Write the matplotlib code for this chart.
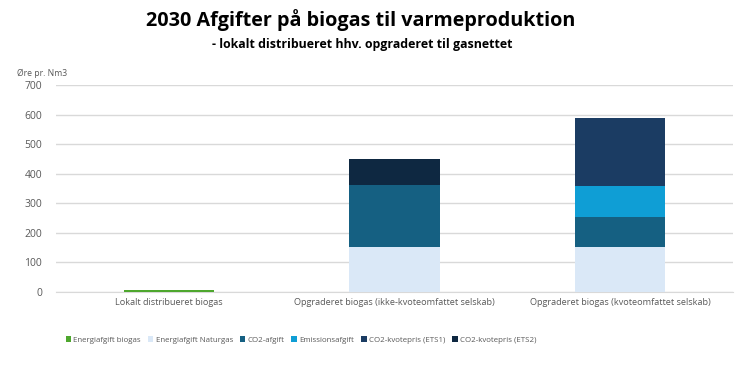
import numpy as np
import matplotlib.pyplot as plt
from matplotlib.patches import Patch

plt.rcParams['font.family'] = ['Open Sans', 'DejaVu Sans']

categories = ['Lokalt distribueret biogas',
              'Opgraderet biogas (ikke-kvoteomfattet selskab)',
              'Opgraderet biogas (kvoteomfattet selskab)']
series = ['Energiafgift biogas', 'Energiafgift Naturgas', 'CO2-afgift',
          'Emissionsafgift', 'CO2-kvotepris (ETS1)', 'CO2-kvotepris (ETS2)']
energi_biogas = [8, 0, 0]
energi_naturgas = [0, 152, 152]
co2_afgift = [0, 210, 100]
emission = [0, 0, 105]
ets1 = [0, 0, 233]
ets2 = [0, 89, 0]
colors = ['#4ea72e', '#dae8f7', '#156082', '#0f9ed5', '#1b3c63', '#0e2841']

values = [energi_biogas, energi_naturgas, co2_afgift, emission, ets1, ets2]

fig = plt.figure(figsize=(7.5, 3.66), dpi=100)
ax = fig.add_axes([56/750, (366-292)/366, (733-56)/750, (292-85)/366])

x = np.arange(len(categories))
bottom = np.zeros(len(categories))
for vals, col in zip(values, colors):
    v = np.array(vals, dtype=float)
    ax.bar(x, v, 0.4, bottom=bottom, color=col, zorder=3)
    bottom += v

ax.set_xlim(-0.5, 2.5)
ax.set_ylim(0, 700)
ax.set_yticks(range(0, 701, 100))
ax.set_xticks(x)
ax.set_xticklabels(categories, fontsize=6.6, color='#595959')
ax.tick_params(axis='y', labelsize=7.5, colors='#595959', length=0, pad=10)
ax.tick_params(axis='x', length=0, pad=4)
ax.grid(axis='y', color='#d9d9d9', linewidth=1, zorder=0)
for s in ['top', 'right', 'left']:
    ax.spines[s].set_visible(False)
ax.spines['bottom'].set_color('#d9d9d9')

fig.text(361/750, 0.975, '2030 Afgifter på biogas til varmeproduktion', ha='center', va='top',
         fontsize=14.2, fontweight='bold', color='black')
fig.text(362/750, 0.895, '- lokalt distribueret hhv. opgraderet til gasnettet', ha='center', va='top',
         fontsize=8.9, fontweight='bold', color='black')
fig.text(17/750, 1 - 73/366, 'Øre pr. Nm3', fontsize=6.2, color='#595959', va='center')

handles = [Patch(facecolor=c, edgecolor='none') for c in colors]
fig.legend(handles, series, loc='center', bbox_to_anchor=(301/750, 1 - 340/366), ncol=6,
           frameon=False, fontsize=5.7, handlelength=0.7, handleheight=0.7,
           handletextpad=0.3, columnspacing=0.85, labelcolor='#595959')

fig.savefig('out.png', dpi=100)
